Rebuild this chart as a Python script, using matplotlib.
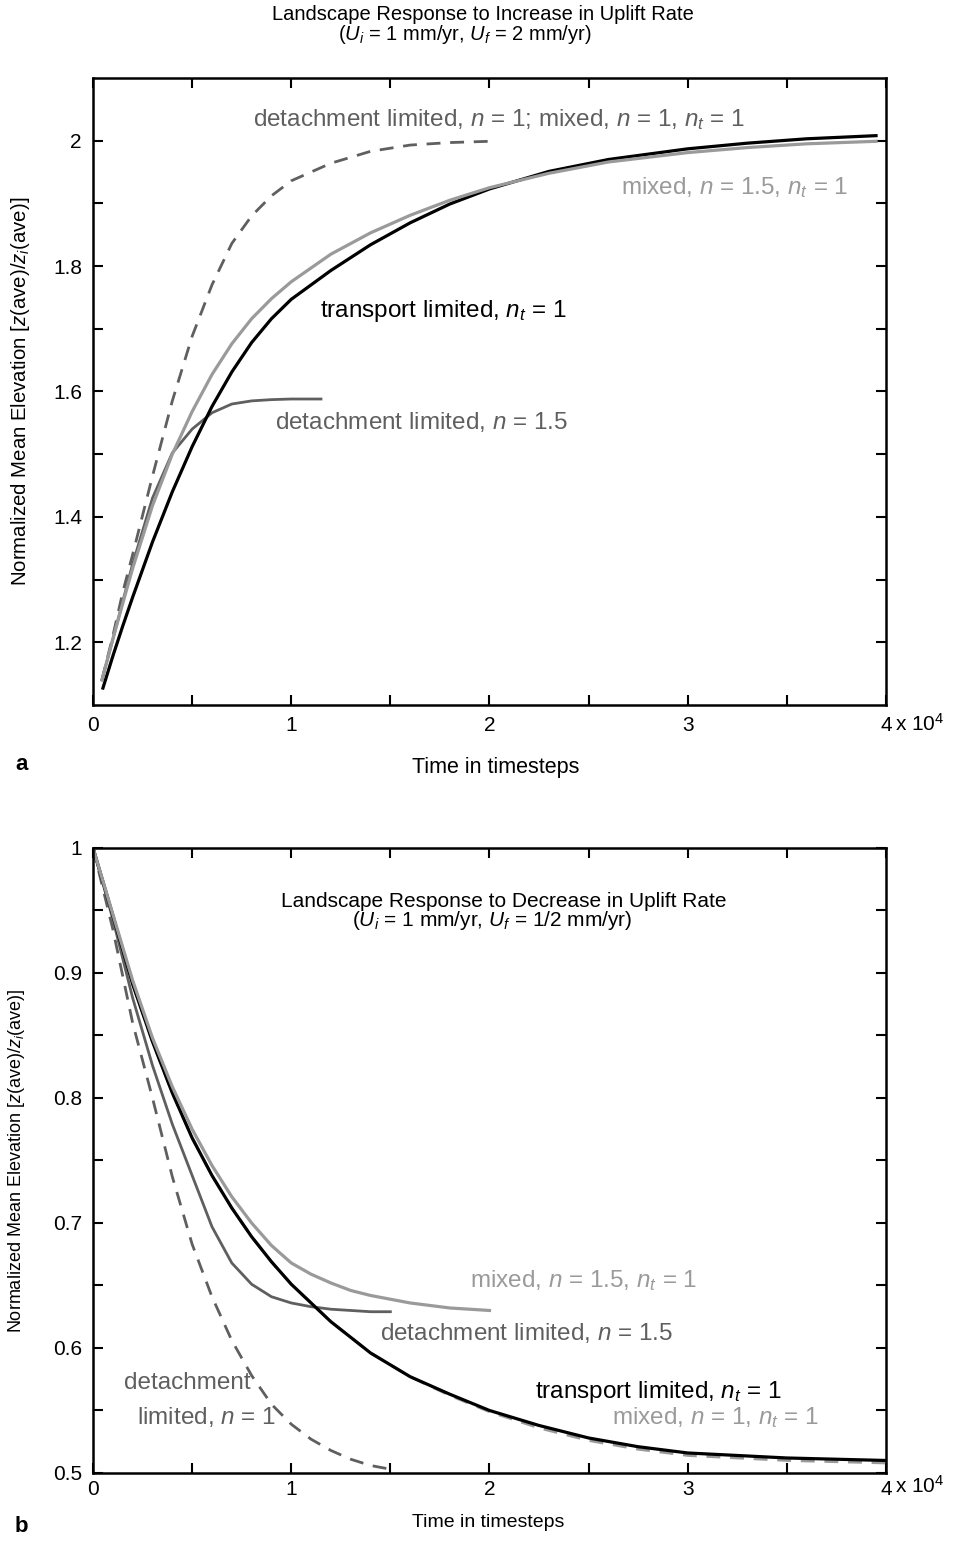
import numpy as np
import matplotlib
matplotlib.use('Agg')
import matplotlib.pyplot as plt

plt.rcParams['font.family'] = 'Liberation Sans'
plt.rcParams['mathtext.fontset'] = 'custom'
plt.rcParams['mathtext.rm'] = 'Liberation Sans'
plt.rcParams['mathtext.it'] = 'Liberation Sans:italic'

# ---- panel a: increase in uplift rate (time in units of 1e4 timesteps) ----
a_transport_t = [0.05, 0.1, 0.15, 0.2, 0.3, 0.4, 0.5, 0.6, 0.7, 0.8, 0.9, 1.0, 1.2, 1.4,
                 1.6, 1.8, 2.0, 2.3, 2.6, 3.0, 3.3, 3.6, 3.95]
a_transport_z = [1.127, 1.178, 1.226, 1.272, 1.360, 1.440, 1.512, 1.576, 1.631, 1.678, 1.716,
                 1.747, 1.793, 1.834, 1.869, 1.899, 1.923, 1.951, 1.970, 1.987, 1.996, 2.003, 2.008]
a_mixed15_t = [0.045, 0.1, 0.15, 0.2, 0.3, 0.4, 0.5, 0.6, 0.7, 0.8, 0.9, 1.0, 1.2, 1.4,
               1.6, 1.8, 2.0, 2.3, 2.6, 3.0, 3.3, 3.6, 3.95]
a_mixed15_z = [1.14, 1.205, 1.262, 1.318, 1.418, 1.50, 1.568, 1.627, 1.676, 1.716, 1.748,
               1.775, 1.819, 1.853, 1.881, 1.905, 1.925, 1.948, 1.966, 1.981, 1.989, 1.995, 1.999]
a_detach1_t = [0.045, 0.1, 0.15, 0.2, 0.3, 0.4, 0.5, 0.6, 0.7, 0.8, 0.9, 1.0, 1.2, 1.4,
               1.6, 1.8, 2.0]
a_detach1_z = [1.14, 1.21, 1.28, 1.34, 1.465, 1.585, 1.688, 1.770, 1.836, 1.880, 1.912,
               1.936, 1.964, 1.983, 1.993, 1.997, 1.999]
a_detach15_t = [0.045, 0.1, 0.2, 0.3, 0.4, 0.5, 0.6, 0.7, 0.8, 0.9, 1.0, 1.15]
a_detach15_z = [1.14, 1.205, 1.325, 1.43, 1.502, 1.540, 1.566, 1.580, 1.585, 1.587, 1.588, 1.588]

# ---- panel b: decrease in uplift rate ----
b_transport_t = [0, 0.1, 0.2, 0.3, 0.4, 0.5, 0.6, 0.7, 0.8, 0.9, 1.0, 1.2, 1.4, 1.6, 1.8,
                 2.0, 2.25, 2.5, 2.75, 3.0, 3.5, 4.0]
b_transport_z = [1.0, 0.946, 0.891, 0.845, 0.804, 0.768, 0.738, 0.712, 0.689, 0.669, 0.651,
                 0.621, 0.596, 0.577, 0.563, 0.550, 0.538, 0.528, 0.521, 0.516, 0.512, 0.510]
b_mixed1_t = b_transport_t
b_mixed1_z = [1.0, 0.946, 0.891, 0.845, 0.804, 0.768, 0.738, 0.712, 0.689, 0.669, 0.651,
              0.621, 0.596, 0.577, 0.562, 0.549, 0.536, 0.526, 0.519, 0.514, 0.510, 0.508]
b_mixed15_t = [0, 0.1, 0.2, 0.3, 0.4, 0.5, 0.6, 0.7, 0.8, 0.9, 1.0, 1.1, 1.2, 1.3, 1.4,
               1.6, 1.8, 2.0]
b_mixed15_z = [1.0, 0.947, 0.894, 0.848, 0.809, 0.775, 0.746, 0.721, 0.700, 0.682, 0.668,
               0.659, 0.652, 0.646, 0.642, 0.636, 0.632, 0.630]
b_detach1_t = [0, 0.1, 0.2, 0.3, 0.4, 0.5, 0.6, 0.7, 0.8, 0.9, 1.0, 1.1, 1.2, 1.3, 1.4, 1.5]
b_detach1_z = [1.0, 0.935, 0.86, 0.80, 0.737, 0.683, 0.641, 0.606, 0.578, 0.555, 0.539,
               0.527, 0.518, 0.511, 0.506, 0.503]
b_detach15_t = [0, 0.1, 0.2, 0.3, 0.4, 0.5, 0.6, 0.7, 0.8, 0.9, 1.0, 1.1, 1.2, 1.3, 1.4, 1.5]
b_detach15_z = [1.0, 0.943, 0.88, 0.826, 0.779, 0.738, 0.697, 0.668, 0.651, 0.641, 0.636,
                0.633, 0.631, 0.630, 0.629, 0.629]

x_ticks = [0, 1, 2, 3, 4]
scale = 1e4

BLACK = 'black'
DARK = '#5f5f5f'
LIGHT = '#9a9a9a'
DASH = (0, (5, 3.5))
LW = 2.0
FS_TICK = 15
FS_NOTE = 17.5


def t(arr):
    return np.array(arr) * scale


def style_axes(ax, ylim, ymajor, yminor, ylabels, xpad):
    ax.set_xlim(0, 4 * scale)
    ax.set_ylim(*ylim)
    ax.set_xticks(t(x_ticks))
    ax.set_xticklabels([str(v) for v in x_ticks])
    ax.set_xticks(t(np.arange(0.5, 4, 1.0)), minor=True)
    ax.set_yticks(ymajor)
    ax.set_yticklabels(ylabels)
    ax.set_yticks(yminor, minor=True)
    ax.tick_params(which='both', direction='in', top=True, right=True,
                   length=7, width=1.5, labelsize=FS_TICK)
    ax.tick_params(axis='x', pad=xpad)
    ax.tick_params(axis='y', pad=8)
    for s in ax.spines.values():
        s.set_linewidth(1.8)


fig = plt.figure(figsize=(9.58, 15.44), dpi=100)

# ===================== panel a =====================
ax1 = fig.add_axes([0.0971, 0.5434, 0.8277, 0.4061])
ax1.plot(t(a_detach1_t), a_detach1_z, color=DARK, lw=LW, linestyle=DASH)
ax1.plot(t(a_detach15_t), a_detach15_z, color=DARK, lw=LW)
ax1.plot(t(a_transport_t), a_transport_z, color=BLACK, lw=LW + 0.3)
ax1.plot(t(a_mixed15_t), a_mixed15_z, color=LIGHT, lw=LW + 0.3)
style_axes(ax1, (1.1, 2.1), [1.2, 1.4, 1.6, 1.8, 2.0], [1.3, 1.5, 1.7, 1.9],
           ['1.2', '1.4', '1.6', '1.8', '2'], 8)

ax1.text(t(0.807), 2.033, 'detachment limited, $n$ = 1; mixed, $n$ = 1, $n_t$ = 1',
         color=DARK, fontsize=FS_NOTE, va='center')
ax1.text(t(2.663), 1.925, 'mixed, $n$ = 1.5, $n_t$ = 1', color=LIGHT, fontsize=FS_NOTE, va='center')
ax1.text(t(1.145), 1.728, 'transport limited, $n_t$ = 1', color=BLACK, fontsize=FS_NOTE, va='center')
ax1.text(t(0.918), 1.551, 'detachment limited, $n$ = 1.5', color=DARK, fontsize=FS_NOTE, va='center')

ax1.set_xlabel('Time in timesteps', fontsize=15.5)
ax1.xaxis.set_label_coords(0.508, -0.083)
ax1.set_ylabel('Normalized Mean Elevation [$z$(ave)/$z_i$(ave)]', fontsize=14.7)
ax1.yaxis.set_label_coords(-0.077, 0.5)

fig.text(483 / 958, 1 - 14 / 1544, 'Landscape Response to Increase in Uplift Rate',
         fontsize=14.5, ha='center', va='center')
fig.text(465 / 958, 1 - 34 / 1544, '($U_i$ = 1 mm/yr, $U_f$ = 2 mm/yr)',
         fontsize=14.5, ha='center', va='center')
fig.text(895 / 958, 1 - 724 / 1544, 'x 10$^4$', fontsize=FS_TICK, ha='left', va='center')
fig.text(15 / 958, 1 - 765 / 1544, 'a', fontsize=16, fontweight='bold', ha='left', va='center')

# ===================== panel b =====================
ax2 = fig.add_axes([0.0971, 0.046, 0.8277, 0.4048])
ax2.plot(t(b_detach1_t), b_detach1_z, color=DARK, lw=LW, linestyle=DASH)
ax2.plot(t(b_mixed1_t), b_mixed1_z, color=LIGHT, lw=LW, linestyle=DASH)
ax2.plot(t(b_detach15_t), b_detach15_z, color=DARK, lw=LW)
ax2.plot(t(b_transport_t), b_transport_z, color=BLACK, lw=LW + 0.3)
ax2.plot(t(b_mixed15_t), b_mixed15_z, color=LIGHT, lw=LW + 0.3)
style_axes(ax2, (0.5, 1.0), [0.5, 0.6, 0.7, 0.8, 0.9, 1.0],
           [0.55, 0.65, 0.75, 0.85, 0.95],
           ['0.5', '0.6', '0.7', '0.8', '0.9', '1'], 5)

ax2.text(t(2.073), 0.957,
         'Landscape Response to Decrease in Uplift Rate',
         fontsize=15, ha='center', va='center')
ax2.text(t(2.012), 0.942, '($U_i$ = 1 mm/yr, $U_f$ = 1/2 mm/yr)',
         fontsize=15, ha='center', va='center')
ax2.text(t(1.902), 0.654, 'mixed, $n$ = 1.5, $n_t$ = 1', color=LIGHT, fontsize=FS_NOTE, va='center')
ax2.text(t(1.448), 0.612, 'detachment limited, $n$ = 1.5', color=DARK, fontsize=FS_NOTE, va='center')
ax2.text(t(2.230), 0.565, 'transport limited, $n_t$ = 1', color=BLACK, fontsize=FS_NOTE, va='center')
ax2.text(t(2.618), 0.544, 'mixed, $n$ = 1, $n_t$ = 1', color=LIGHT, fontsize=FS_NOTE, va='center')
ax2.text(t(0.474), 0.572, 'detachment', color=DARK, fontsize=FS_NOTE, ha='center', va='center')
ax2.text(t(0.575), 0.545, 'limited, $n$ = 1', color=DARK, fontsize=FS_NOTE, ha='center', va='center')

ax2.set_xlabel('Time in timesteps', fontsize=14)
ax2.xaxis.set_label_coords(0.498, -0.066)
ax2.set_ylabel('Normalized Mean Elevation [$z$(ave)/$z_i$(ave)]', fontsize=13)
ax2.yaxis.set_label_coords(-0.083, 0.5)

fig.text(895 / 958, 1 - 1486 / 1544, 'x 10$^4$', fontsize=FS_TICK, ha='left', va='center')
fig.text(15 / 958, 1 - 1527 / 1544, 'b', fontsize=16, fontweight='bold', ha='left', va='center')

fig.savefig('out.png', dpi=100)
